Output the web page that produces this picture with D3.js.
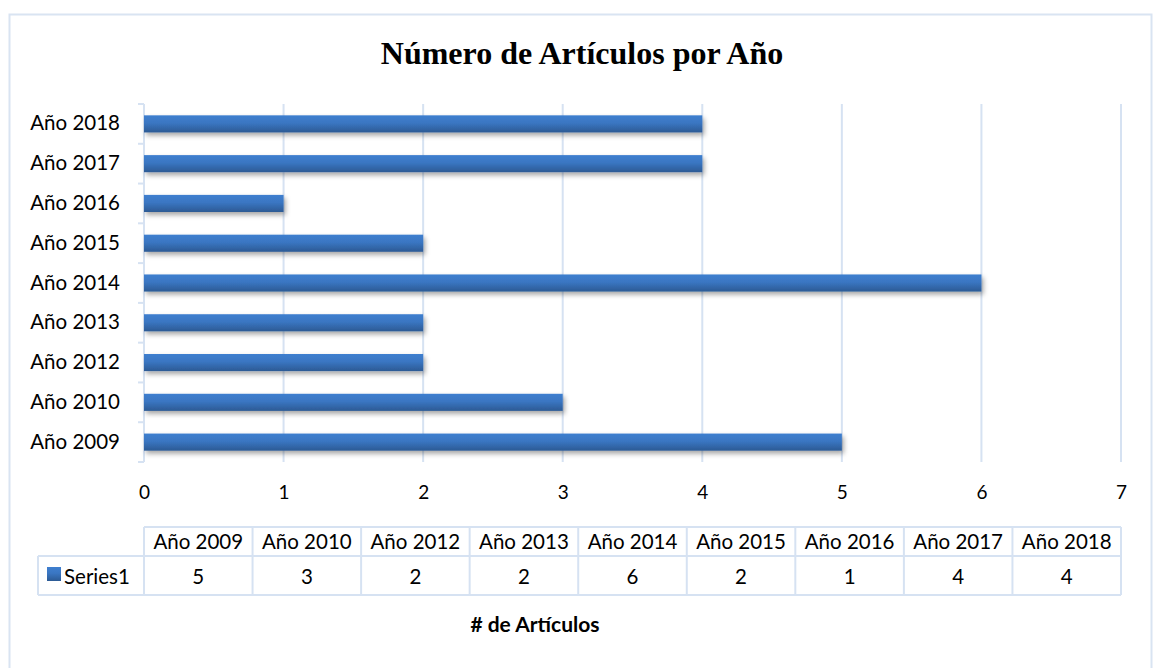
<!DOCTYPE html>
<html><head><meta charset="utf-8">
<script src="https://cdn.jsdelivr.net/npm/d3@7"></script>
<style>body{margin:0;background:#fff}svg{display:block}</style>
</head><body>
<script>
const categories = ["Año 2009","Año 2010","Año 2012","Año 2013","Año 2014","Año 2015","Año 2016","Año 2017","Año 2018"];
const values = [5,3,2,2,6,2,1,4,4];
const seriesName = "Series1";
const xTicks = [0,1,2,3,4,5,6,7];
const title = "Número de Artículos por Año";
const xTitle = "# de Artículos";

const W=1160,H=668;
const svg=d3.select("body").append("svg").attr("width",W).attr("height",H);
const grid="#d6e2f2";
const font="Lato, 'Open Sans', sans-serif";
const fs=20.5;

const defs=svg.append("defs");
const g1=defs.append("linearGradient").attr("id","bar").attr("x1",0).attr("y1",0).attr("x2",0).attr("y2",1);
g1.append("stop").attr("offset","0%").attr("stop-color","#3f7fcf");
g1.append("stop").attr("offset","45%").attr("stop-color","#3a76c2");
g1.append("stop").attr("offset","100%").attr("stop-color","#2c5a94");
const f=defs.append("filter").attr("id","sh").attr("x","-5%").attr("y","-50%").attr("width","110%").attr("height","220%");
f.append("feDropShadow").attr("dx",2).attr("dy",3).attr("stdDeviation",2.5).attr("flood-color","#000").attr("flood-opacity",0.35);

// outer border
svg.append("rect").attr("x",9.5).attr("y",14.5).attr("width",1142).attr("height",670).attr("fill","none").attr("stroke","#d9e4f2").attr("stroke-width",2);

svg.append("text").attr("x",582).attr("y",64).attr("text-anchor","middle")
  .attr("font-family","'Liberation Serif','Times New Roman',serif").attr("font-weight","bold").attr("font-size",32).text(title);

const x0=144,x1=1121,yTop=104,yBot=462;
const x=d3.scaleLinear().domain([0,7]).range([x0,x1]);
const y=d3.scaleBand().domain(categories.slice().reverse()).range([yTop,yBot]).paddingInner(0.57).paddingOuter(0.285);
const yb=d3.scaleBand().domain(categories.slice().reverse()).range([yTop,yBot]);

// gridlines
svg.append("g").selectAll("line").data(xTicks.slice(1)).join("line")
  .attr("x1",d=>x(d)).attr("x2",d=>x(d)).attr("y1",yTop).attr("y2",yBot)
  .attr("stroke",grid).attr("stroke-width",2);

// x tick labels via axis
const xa=svg.append("g").attr("transform",`translate(0,${yBot})`)
  .call(d3.axisBottom(x).tickValues(xTicks).tickFormat(d3.format("d")).tickSize(0).tickPadding(24));
xa.select(".domain").remove();
xa.selectAll("text").attr("font-family",font).attr("font-size",19).attr("fill","#000");

// y axis
const ya=svg.append("g").attr("transform",`translate(${x0},0)`).call(d3.axisLeft(y).tickSize(0).tickPadding(24));
ya.select(".domain").remove();
ya.selectAll("text").attr("font-family",font).attr("font-size",fs).attr("fill","#000");
svg.append("line").attr("x1",x0).attr("x2",x0).attr("y1",yTop).attr("y2",yBot).attr("stroke",grid).attr("stroke-width",2);
const bounds=categories.map(c=>yb(c)).concat([yBot]);
svg.append("g").selectAll("line").data(bounds).join("line")
  .attr("x1",x0-6).attr("x2",x0).attr("y1",d=>d).attr("y2",d=>d).attr("stroke",grid).attr("stroke-width",2);

// bars
svg.append("g").selectAll("rect").data(categories).join("rect")
  .attr("x",x0).attr("y",c=>y(c)).attr("height",y.bandwidth())
  .attr("width",(c,i)=>x(values[i])-x0).attr("fill","url(#bar)").attr("filter","url(#sh)");

// data table
const colW=(x1-x0)/categories.length;
const tTop=527,tMid=556,tBot=595,legL=38;
const tb=svg.append("g");
const bw=2;
tb.append("line").attr("x1",x0).attr("x2",x1).attr("y1",tTop).attr("y2",tTop).attr("stroke",grid).attr("stroke-width",bw);
tb.append("line").attr("x1",legL).attr("x2",x1).attr("y1",tMid).attr("y2",tMid).attr("stroke",grid).attr("stroke-width",bw);
tb.append("line").attr("x1",legL).attr("x2",x1).attr("y1",tBot).attr("y2",tBot).attr("stroke",grid).attr("stroke-width",bw);
tb.append("line").attr("x1",legL).attr("x2",legL).attr("y1",tMid).attr("y2",tBot).attr("stroke",grid).attr("stroke-width",bw);
tb.selectAll("line.vl").data(d3.range(categories.length+1)).join("line").attr("class","vl")
  .attr("x1",i=>x0+i*colW).attr("x2",i=>x0+i*colW).attr("y1",tTop).attr("y2",tBot).attr("stroke",grid).attr("stroke-width",bw);
tb.selectAll("text.hd").data(categories).join("text").attr("class","hd")
  .attr("x",(c,i)=>x0+(i+0.5)*colW).attr("y",tMid-7).attr("text-anchor","middle")
  .attr("font-family",font).attr("font-size",fs).text(d=>d);
tb.selectAll("text.vv").data(values).join("text").attr("class","vv")
  .attr("x",(v,i)=>x0+(i+0.5)*colW).attr("y",tBot-11).attr("text-anchor","middle")
  .attr("font-family",font).attr("font-size",fs).text(v=>v);
tb.append("rect").attr("x",47).attr("y",567).attr("width",14).attr("height",14).attr("fill","url(#bar)");
tb.append("text").attr("x",64).attr("y",tBot-11).attr("font-family",font).attr("font-size",fs).text(seriesName);

svg.append("text").attr("x",535).attr("y",632).attr("text-anchor","middle")
  .attr("font-family",font).attr("font-weight","bold").attr("font-size",21).text(xTitle);
</script>
</body></html>
